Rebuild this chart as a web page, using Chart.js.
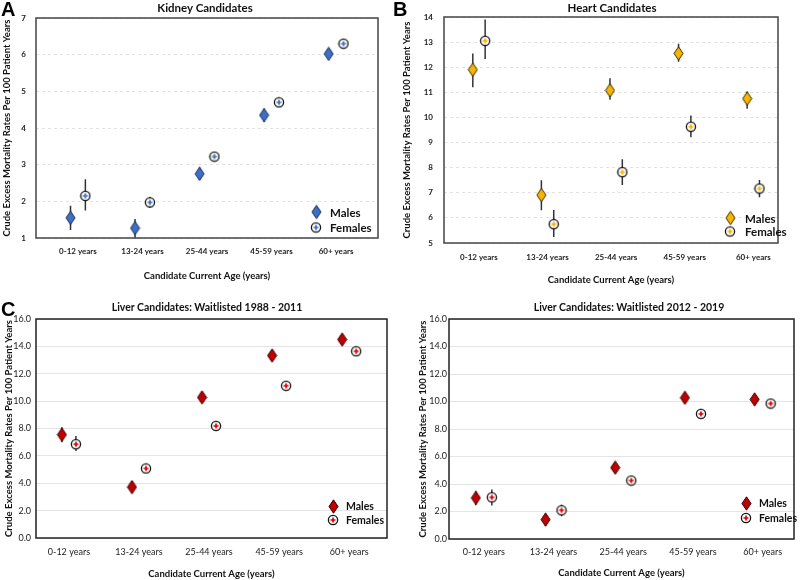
<!DOCTYPE html>
<html>
<head>
<meta charset="utf-8">
<script src="https://cdn.jsdelivr.net/npm/chart.js@4.4.1/dist/chart.umd.min.js"></script>
<style>
  body { margin: 0; background: #fff; width: 800px; height: 580px; position: relative; overflow: hidden; font-family: Lato, "Open Sans", sans-serif; }
  canvas { position: absolute; }
  .title { position: absolute; font-weight: bold; color: #111; white-space: nowrap; transform: translate(-50%, -50%); }
  .letter { position: absolute; font: bold 20px "Liberation Sans", Arial, sans-serif; color: #000; transform: translateY(-50%); }
  .leg { position: absolute; font-weight: bold; color: #111; white-space: nowrap; transform: translateY(-50%); }
  .leg img { position: absolute; }
</style>
</head>
<body>
<canvas id="kidney" width="400" height="290" style="left:0;top:0"></canvas>
<canvas id="heart" width="400" height="290" style="left:400px;top:0"></canvas>
<canvas id="liverOld" width="400" height="290" style="left:0;top:290px"></canvas>
<canvas id="liverNew" width="400" height="290" style="left:400px;top:290px"></canvas>

<div class="letter" style="left:1px;top:9px">A</div>
<div class="letter" style="left:393px;top:9px">B</div>
<div class="letter" style="left:1px;top:309px">C</div>

<div class="title" style="left:205px;top:7px;font-size:11.5px">Kidney Candidates</div>
<div class="title" style="left:612px;top:7px;font-size:11.5px">Heart Candidates</div>
<div class="title" style="left:207px;top:307px;font-size:10.5px">Liver Candidates: Waitlisted 1988 - 2011</div>
<div class="title" style="left:629px;top:307px;font-size:10.5px">Liver Candidates: Waitlisted 2012 - 2019</div>

<script>
// age groups on the x axis
const ageGroups = ["0-12 years", "13-24 years", "25-44 years", "45-59 years", "60+ years"];

// Kidney (A)
const kidneyMales = [1.55, 1.27, 2.75, 4.35, 6.02];
const kidneyMalesLow = [1.22, 0.98, 2.58, 4.17, 5.9];
const kidneyMalesHigh = [1.88, 1.52, 2.92, 4.53, 6.14];
const kidneyFemales = [2.15, 1.97, 3.22, 4.7, 6.3];
const kidneyFemalesLow = [1.75, 1.82, 3.12, 4.6, 6.22];
const kidneyFemalesHigh = [2.6, 2.12, 3.32, 4.82, 6.38];
const kidneyTicks = [1, 2, 3, 4, 5, 6, 7];

// Heart (B)
const heartMales = [11.9, 6.91, 11.08, 12.55, 10.75];
const heartMalesLow = [11.2, 6.3, 10.7, 12.22, 10.35];
const heartMalesHigh = [12.55, 7.5, 11.56, 12.93, 11.03];
const heartFemales = [13.05, 5.75, 7.82, 9.63, 7.17];
const heartFemalesLow = [12.33, 5.24, 7.31, 9.21, 6.82];
const heartFemalesHigh = [13.9, 6.31, 8.34, 10.08, 7.51];
const heartTicks = [5, 6, 7, 8, 9, 10, 11, 12, 13, 14];

// Liver 1988-2011 (C)
const liverOldMales = [7.55, 3.72, 10.27, 13.33, 14.5];
const liverOldMalesLow = [7.0, 3.3, 9.95, 13.0, 14.2];
const liverOldMalesHigh = [8.1, 4.15, 10.6, 13.65, 14.8];
const liverOldFemales = [6.85, 5.08, 8.19, 11.12, 13.64];
const liverOldFemalesLow = [6.35, 4.93, 8.02, 10.97, 13.5];
const liverOldFemalesHigh = [7.45, 5.23, 8.36, 11.27, 13.78];

// Liver 2012-2019 (D)
const liverNewMales = [2.99, 1.41, 5.19, 10.27, 10.15];
const liverNewMalesLow = [2.45, 0.97, 4.9, 9.95, 9.85];
const liverNewMalesHigh = [3.47, 1.84, 5.5, 10.6, 10.45];
const liverNewFemales = [3.03, 2.09, 4.25, 9.1, 9.85];
const liverNewFemalesLow = [2.43, 1.65, 4.1, 8.95, 9.7];
const liverNewFemalesHigh = [3.6, 2.5, 4.4, 9.25, 10.0];
const liverTicks = [0, 2, 4, 6, 8, 10, 12, 14, 16];

// marker images
function makeDiamond(fill, stroke) {
  const c = document.createElement("canvas");
  c.width = 11; c.height = 15;
  const g = c.getContext("2d");
  g.beginPath();
  g.moveTo(5.5, 0.8); g.lineTo(10, 7.5); g.lineTo(5.5, 14.2); g.lineTo(1, 7.5);
  g.closePath();
  g.fillStyle = fill; g.fill();
  g.lineWidth = 1; g.strokeStyle = stroke; g.stroke();
  return c;
}
function makeRing(cross) {
  const c = document.createElement("canvas");
  c.width = 12; c.height = 12;
  const g = c.getContext("2d");
  g.beginPath(); g.arc(6, 6, 4.6, 0, Math.PI * 2);
  g.fillStyle = "#fff"; g.fill();
  g.lineWidth = 1.3; g.strokeStyle = "#111"; g.stroke();
  g.beginPath();
  g.moveTo(3.5, 6); g.lineTo(8.5, 6); g.moveTo(6, 3.5); g.lineTo(6, 8.5);
  g.lineWidth = 1.7; g.strokeStyle = cross; g.stroke();
  return c;
}

// plot frame
const boxPlugin = {
  id: "box",
  afterDatasetsDraw(chart, args, opts) {
    const { ctx, chartArea: a } = chart;
    ctx.save();
    ctx.strokeStyle = opts.color;
    ctx.lineWidth = 1.5;
    ctx.strokeRect(a.left, a.top, a.right - a.left, a.bottom - a.top);
    ctx.restore();
  }
};

function errorData(values, lo, hi, shift) {
  const pts = [];
  values.forEach((v, i) => {
    pts.push({ x: i + shift, y: lo[i] }, { x: i + shift, y: hi[i] }, { x: i + shift, y: null });
  });
  return pts;
}

function makePanel(p) {
  const male = makeDiamond(p.fill, p.stroke);
  const female = makeRing(p.cross);
  new Chart(document.getElementById(p.id), {
    type: "scatter",
    data: {
      datasets: [
        { data: p.males.map((v, i) => ({ x: i - p.shift, y: v })), pointStyle: male, pointRadius: 5, order: 0 },
        { data: p.females.map((v, i) => ({ x: i + p.shift, y: v })), pointStyle: female, pointRadius: 5, order: 0 },
        { data: errorData(p.males, p.malesLow, p.malesHigh, -p.shift), showLine: true, spanGaps: false, pointRadius: 0, borderColor: "#333", borderWidth: 1.5, order: 1 },
        { data: errorData(p.females, p.femalesLow, p.femalesHigh, p.shift), showLine: true, spanGaps: false, pointRadius: 0, borderColor: "#333", borderWidth: 1.5, order: 1 }
      ]
    },
    options: {
      responsive: false,
      animation: false,
      layout: { padding: { top: p.padTop, right: p.padRight, left: 0, bottom: 0 } },
      plugins: { legend: { display: false }, tooltip: { enabled: false }, box: { color: p.frame } },
      scales: {
        x: {
          type: "linear",
          min: p.xMin,
          max: p.xMax,
          afterBuildTicks: (s) => { s.ticks = ageGroups.map((_, i) => ({ value: i })); },
          afterFit: (s) => { s.height = p.xHeight; },
          grid: { display: false, drawTicks: false },
          border: { display: false },
          ticks: {
            callback: (v) => ageGroups[Math.round(v)],
            autoSkip: false, maxRotation: 0,
            padding: p.xTickPad,
            color: "#222",
            font: { family: "Lato", size: p.xTickSize, weight: p.tickWeight }
          },
          title: {
            display: true,
            text: "Candidate Current Age (years)",
            color: "#111",
            font: { family: "Lato", size: 9.5, weight: "bold" },
            padding: { top: 0, bottom: p.xTitlePad }
          }
        },
        y: {
          min: p.ticks[0],
          max: p.ticks[p.ticks.length - 1],
          afterBuildTicks: (s) => { s.ticks = p.ticks.map((v) => ({ value: v })); },
          afterFit: (s) => { s.width = p.yWidth; },
          grid: { color: p.gridColor, drawTicks: false },
          border: { display: false, dash: p.dash },
          ticks: {
            callback: p.tickFormat,
            padding: p.yTickPad,
            color: "#222",
            font: { family: "Lato", size: p.yTickSize, weight: p.tickWeight }
          },
          title: {
            display: true,
            text: "Crude Excess Mortality Rates Per 100 Patient Years",
            color: "#111",
            font: { family: "Lato", size: 9.5, weight: "bold" },
            padding: { top: p.yTitlePad, bottom: 0 }
          }
        }
      }
    },
    plugins: [boxPlugin]
  });

  // legend inside the plot
  [["Males", male, p.legY1], ["Females", female, p.legY2]].forEach(([label, img, y]) => {
    const d = document.createElement("div");
    d.className = "leg";
    d.style.left = p.legText + "px";
    d.style.top = y + "px";
    d.style.fontSize = p.legSize + "px";
    d.textContent = label;
    const im = document.createElement("img");
    im.src = img.toDataURL();
    im.style.left = (p.legIcon - p.legText - img.width / 2) + "px";
    im.style.top = "50%";
    im.style.marginTop = (-img.height / 2) + "px";
    d.appendChild(im);
    document.body.appendChild(d);
  });
}

const plainTick = (v) => v;
const decimalTick = (v) => v.toFixed(1);

makePanel({
  id: "kidney", males: kidneyMales, malesLow: kidneyMalesLow, malesHigh: kidneyMalesHigh,
  females: kidneyFemales, femalesLow: kidneyFemalesLow, femalesHigh: kidneyFemalesHigh, ticks: kidneyTicks,
  fill: "#3d6fc2", stroke: "#1b2f5a", cross: "#3d6fc2", frame: "#444",
  shift: 0.115, xMin: -0.65, xMax: 4.65,
  padTop: 18, padRight: 22, yWidth: 36, xHeight: 52,
  xTickPad: 9, yTickPad: 10, xTitlePad: 8, yTitlePad: 1, xTickSize: 8, yTickSize: 8, tickWeight: "bold",
  gridColor: "#e2e2e2", dash: [3, 3], tickFormat: plainTick,
  legIcon: 316, legText: 330, legY1: 212, legY2: 227, legSize: 11.5
});

makePanel({
  id: "heart", males: heartMales, malesLow: heartMalesLow, malesHigh: heartMalesHigh,
  females: heartFemales, femalesLow: heartFemalesLow, femalesHigh: heartFemalesHigh, ticks: heartTicks,
  fill: "#f7b500", stroke: "#3a2d00", cross: "#f7b500", frame: "#444",
  shift: 0.09, xMin: -0.51, xMax: 4.36,
  padTop: 17, padRight: 22, yWidth: 44, xHeight: 47,
  xTickPad: 10, yTickPad: 11, xTitlePad: 4, yTitlePad: 1, xTickSize: 8, yTickSize: 8, tickWeight: "bold",
  gridColor: "#e2e2e2", dash: [3, 3], tickFormat: plainTick,
  legIcon: 730, legText: 745, legY1: 218, legY2: 231, legSize: 11.5
});

makePanel({
  id: "liverOld", males: liverOldMales, malesLow: liverOldMalesLow, malesHigh: liverOldMalesHigh,
  females: liverOldFemales, femalesLow: liverOldFemalesLow, femalesHigh: liverOldFemalesHigh, ticks: liverTicks,
  fill: "#c00000", stroke: "#3a0000", cross: "#e00000", frame: "#222",
  shift: 0.1, xMin: -0.47, xMax: 4.54,
  padTop: 29, padRight: 13, yWidth: 36, xHeight: 42,
  xTickPad: 9, yTickPad: 5, xTitlePad: 0, yTitlePad: 3, xTickSize: 9, yTickSize: 9, tickWeight: "normal",
  gridColor: "#e4e4e4", dash: [], tickFormat: decimalTick,
  legIcon: 333, legText: 346, legY1: 506, legY2: 520, legSize: 10.5
});

makePanel({
  id: "liverNew", males: liverNewMales, malesLow: liverNewMalesLow, malesHigh: liverNewMalesHigh,
  females: liverNewFemales, femalesLow: liverNewFemalesLow, femalesHigh: liverNewFemalesHigh, ticks: liverTicks,
  fill: "#c00000", stroke: "#3a0000", cross: "#e00000", frame: "#222",
  shift: 0.115, xMin: -0.5, xMax: 4.45,
  padTop: 29, padRight: 2, yWidth: 49, xHeight: 41,
  xTickPad: 8, yTickPad: 2, xTitlePad: 1, yTitlePad: 17, xTickSize: 9, yTickSize: 9, tickWeight: "normal",
  gridColor: "#e4e4e4", dash: [], tickFormat: decimalTick,
  legIcon: 746, legText: 759, legY1: 503, legY2: 518, legSize: 10.5
});
</script>
</body>
</html>
